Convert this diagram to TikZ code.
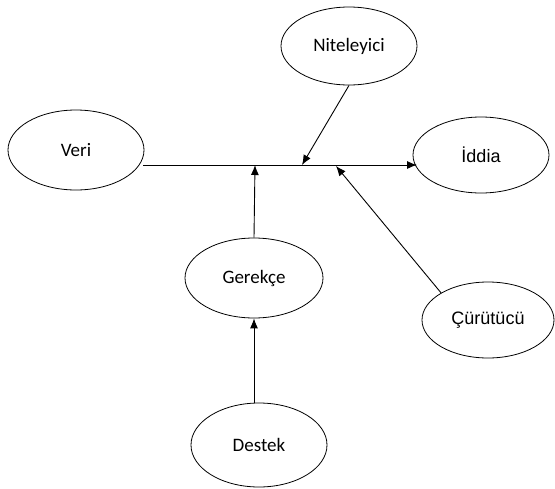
\documentclass[tikz,border=0pt]{standalone}
\usepackage{fontspec}
\setmainfont{Carlito}
\newfontfamily\arialfont{Liberation Sans}
\usetikzlibrary{arrows.meta, shapes.geometric}

\begin{document}
\begin{tikzpicture}[x=1pt, y=-1pt, >={Latex[length=10pt, width=8pt]}, font=\fontsize{19}{21}\selectfont]
		\tikzstyle{oval} = [draw=black, ellipse, line width=0.8pt, inner sep=0pt]
		\tikzstyle{arrow} = [line width=0.9pt, ->]
		
		\useasboundingbox (0, 0) rectangle (555, 488);
		
		\node[oval, minimum width=136pt, minimum height=78pt] at (349, 46)	(niteleyici)	{Niteleyici};
		\node[oval, minimum width=136pt, minimum height=80pt] at (76, 150)	(veri)	{Veri};
		\node[oval, minimum width=136pt, minimum height=76pt, font=\arialfont\fontsize{18}{20}\selectfont] at (481, 155)	(iddia)	{İddia};
		
		\node[oval, minimum width=138pt, minimum height=80pt] at (254, 278)	(gerekce)	{Gerekçe};
		\node[oval, minimum width=132pt, minimum height=76pt, font=\arialfont\fontsize{18}{20}\selectfont] at (488, 320)	(curutucu)	{Çürütücü};
		\node[oval, minimum width=136pt, minimum height=84pt] at (259, 445)	(destek)	{Destek};
		
		% main line from data to claim
		\coordinate (lstart)	at (143, 165);
		\coordinate (lend)	at (417, 165);
		\coordinate (qual)	at (302, 165);
		\coordinate (warr)	at (255, 165);
		\coordinate (reb)	at (336, 166);
		
		\draw [arrow] (lstart) -- (lend);
		\draw [arrow] (niteleyici.south) -- (qual);
		\draw [arrow] (gerekce.north) -- (warr);
		\draw [arrow] (curutucu.north west) -- (reb);
		\draw [arrow] (gerekce.south |- destek.north) -- (gerekce.south);
	\end{tikzpicture}
\end{document}
